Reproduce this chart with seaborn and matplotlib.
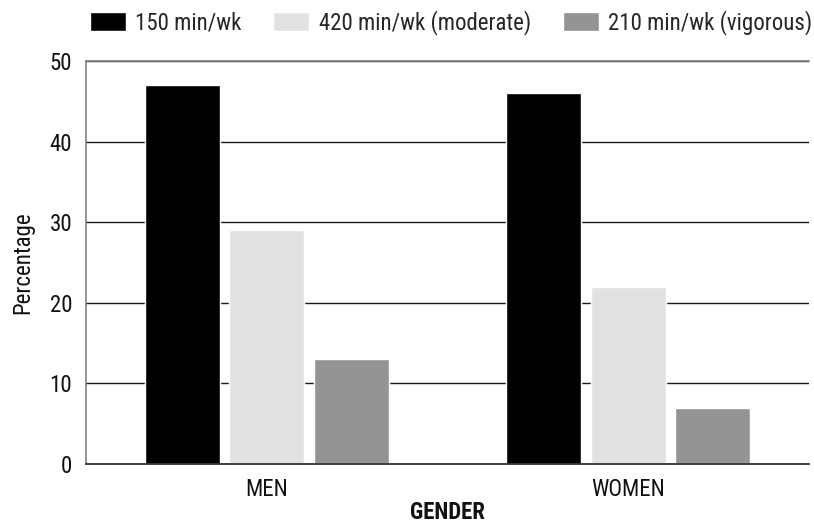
import matplotlib
matplotlib.use("Agg")
import matplotlib.pyplot as plt
from matplotlib import font_manager
import seaborn as sns
import pandas as pd

genders = ["MEN", "WOMEN"]
series = ["150 min/wk", "420 min/wk (moderate)", "210 min/wk (vigorous)"]
values_men = [47, 29, 13]
values_women = [46, 22, 7]
colors = ["#000000", "#e1e2e3", "#939496"]
yticks = [0, 10, 20, 30, 40, 50]

rows = []
for s, m, w in zip(series, values_men, values_women):
    rows.append({"gender": "MEN", "series": s, "pct": m})
    rows.append({"gender": "WOMEN", "series": s, "pct": w})
df = pd.DataFrame(rows)

sns.set_theme(style="white")

# pick a condensed sans family that is installed
installed = {f.name for f in font_manager.fontManager.ttflist}
candidates = ["Roboto Condensed", "Archivo Narrow", "PT Sans Narrow",
              "Liberation Sans Narrow", "Barlow Condensed", "Fira Sans Condensed",
              "Encode Sans Condensed", "Open Sans Condensed", "Roboto"]
family = next((c for c in candidates if c in installed), "DejaVu Sans")
plt.rcParams["font.family"] = [family, "DejaVu Sans"]

FS = 16.5
fig = plt.figure(figsize=(8.14, 5.26), dpi=100)
ax = fig.add_axes([86 / 814, 1 - 464 / 526, (809 - 86) / 814, (464 - 61) / 526])

sns.barplot(data=df, x="gender", y="pct", hue="series", order=genders,
            hue_order=series, palette=colors, width=0.70, gap=0.11,
            saturation=1, ax=ax, legend=True)

ax.set_xlim(-0.5, 1.5)
ax.set_ylim(0, 50)
ax.set_yticks(yticks)
ax.yaxis.grid(True, color="#1a1a1a", linewidth=1.0)
ax.set_axisbelow(True)
ax.tick_params(axis="both", length=0, labelsize=FS, colors="#111111")
ax.tick_params(axis="y", pad=10)
ax.tick_params(axis="x", pad=10)

for side in ["left", "top"]:
    ax.spines[side].set_color("#808080")
    ax.spines[side].set_linewidth(1.2)
ax.spines["bottom"].set_color("#333333")
ax.spines["bottom"].set_linewidth(1.3)
ax.spines["right"].set_visible(False)

ax.set_ylabel("Percentage", fontsize=FS, color="#111111", labelpad=11)
ax.set_xlabel("GENDER", fontsize=FS, fontweight="bold", color="#111111", labelpad=0)

handles, labels = ax.get_legend_handles_labels()
ax.legend(handles, labels, ncol=3, frameon=False, fontsize=FS,
          loc="center right", bbox_to_anchor=(812 / 814, 1 - 22.5 / 526),
          bbox_transform=fig.transFigure,
          handlelength=1.57, handleheight=0.92, handletextpad=0.4,
          columnspacing=1.4, borderaxespad=0, borderpad=0)

fig.savefig("out.png", dpi=100)
